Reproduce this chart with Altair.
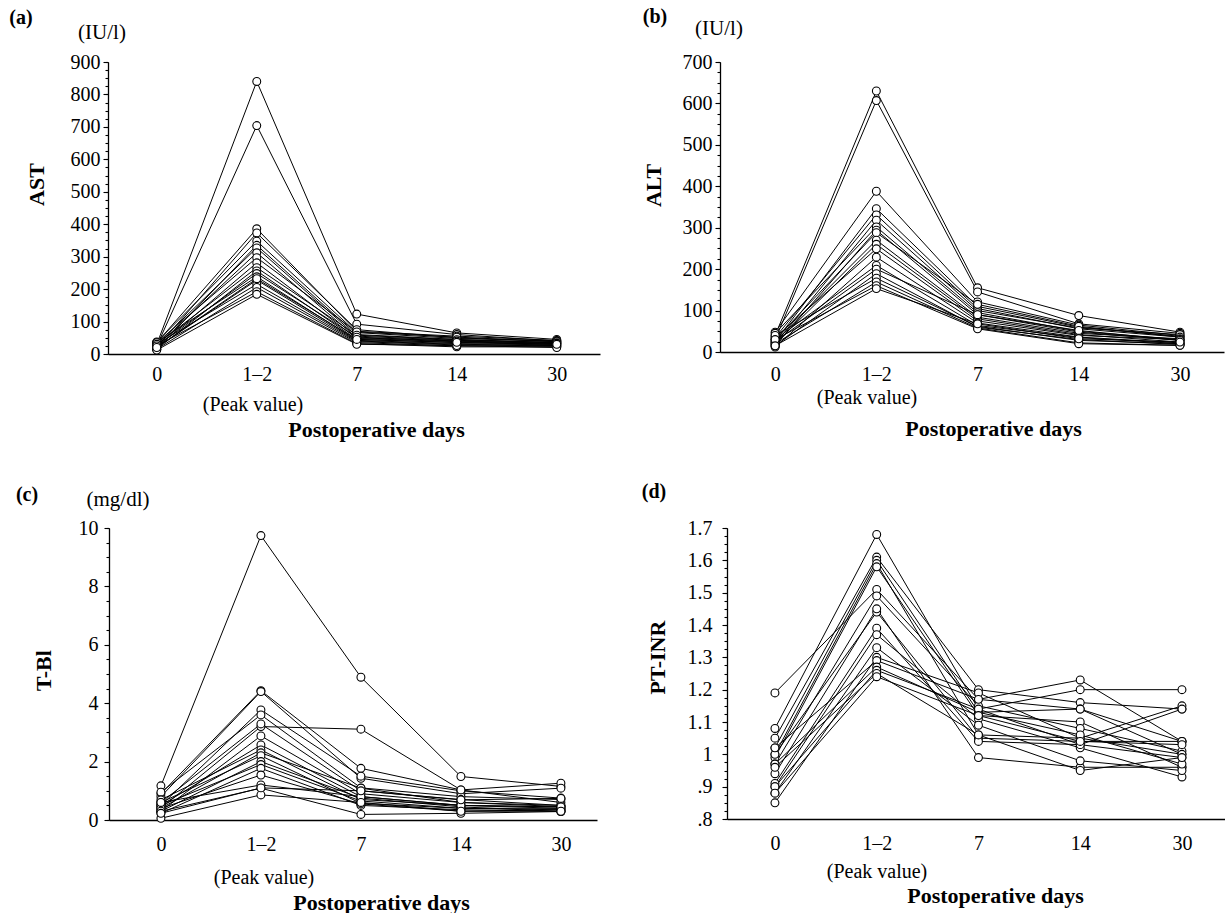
import altair as alt
import pandas as pd

W, H = 1225, 913
SERIF = "Liberation Serif"

DAYS = ["0", "1–2", "7", "14", "30"]

# One row per patient: day 0, peak (day 1–2), day 7, day 14, day 30
AST = [
    [30, 840, 123, 65, 45],
    [25, 704, 92, 60, 40],
    [35, 386, 70, 55, 42],
    [20, 373, 75, 50, 38],
    [37, 348, 66, 48, 40],
    [15, 335, 60, 45, 35],
    [30, 327, 55, 42, 36],
    [25, 312, 50, 40, 32],
    [35, 297, 68, 52, 38],
    [20, 281, 48, 38, 30],
    [30, 266, 58, 44, 34],
    [15, 256, 45, 35, 30],
    [25, 248, 52, 40, 33],
    [35, 238, 42, 32, 28],
    [20, 228, 40, 30, 26],
    [30, 215, 38, 28, 25],
    [15, 205, 35, 25, 24],
    [25, 192, 32, 22, 22],
    [12, 184, 30, 26, 20],
    [20, 232, 45, 36, 30],
]

ALT = [
    [40, 630, 155, 88, 48],
    [30, 607, 145, 68, 45],
    [48, 388, 121, 65, 40],
    [25, 346, 110, 60, 38],
    [35, 331, 105, 56, 36],
    [20, 318, 100, 58, 42],
    [45, 302, 95, 50, 30],
    [15, 294, 90, 48, 28],
    [30, 288, 115, 62, 36],
    [25, 270, 84, 45, 32],
    [20, 260, 80, 42, 24],
    [35, 249, 75, 40, 30],
    [12, 229, 70, 36, 22],
    [30, 209, 64, 35, 20],
    [25, 200, 90, 52, 28],
    [15, 189, 60, 30, 18],
    [40, 178, 62, 28, 20],
    [20, 169, 58, 22, 16],
    [30, 160, 56, 20, 16],
    [15, 153, 68, 32, 24],
]

TBIL = [
    [1.17, 9.74, 4.89, 1.49, 1.15],
    [0.9, 4.43, 1.77, 1.03, 1.26],
    [0.8, 4.4, 1.43, 0.9, 1.09],
    [0.5, 3.77, 1.5, 1.0, 0.75],
    [0.95, 3.6, 1.1, 0.8, 0.7],
    [0.4, 3.2, 3.11, 1.03, 0.6],
    [0.6, 3.29, 1.0, 0.7, 0.5],
    [0.3, 2.88, 0.9, 0.6, 0.46],
    [0.5, 2.57, 0.8, 0.5, 0.4],
    [0.69, 2.4, 0.7, 0.5, 0.45],
    [0.4, 2.3, 1.09, 0.6, 0.5],
    [0.6, 2.2, 0.57, 0.4, 0.35],
    [0.3, 2.0, 0.75, 0.45, 0.29],
    [0.5, 1.9, 0.65, 0.4, 0.4],
    [0.23, 1.77, 0.5, 0.35, 0.3],
    [0.4, 1.54, 0.55, 0.3, 0.35],
    [0.6, 1.2, 0.8, 0.5, 0.45],
    [0.3, 1.09, 0.19, 0.23, 0.29],
    [0.06, 0.86, 0.6, 0.3, 0.3],
    [0.23, 1.1, 1.0, 0.69, 0.74],
]

PTINR = [
    [1.19, 1.51, 1.17, 1.23, 1.04],
    [1.08, 1.68, 1.14, 1.20, 1.20],
    [1.05, 1.61, 1.20, 1.16, 1.14],
    [1.02, 1.60, 1.13, 1.14, 1.00],
    [1.00, 1.59, 1.06, 1.05, 1.15],
    [0.99, 1.58, 1.12, 1.10, 0.96],
    [0.97, 1.49, 1.15, 1.08, 1.01],
    [1.00, 1.44, 1.05, 1.04, 1.04],
    [0.94, 1.45, 0.99, 0.96, 0.96],
    [0.91, 1.39, 1.04, 1.03, 0.99],
    [0.90, 1.37, 1.11, 1.02, 0.93],
    [0.88, 1.33, 1.09, 0.98, 0.95],
    [0.85, 1.30, 1.19, 1.05, 1.00],
    [1.02, 1.29, 1.17, 1.14, 1.04],
    [0.97, 1.27, 1.13, 1.06, 0.97],
    [0.90, 1.26, 1.14, 1.03, 1.14],
    [0.96, 1.25, 1.06, 0.95, 0.99],
    [0.88, 1.24, 1.12, 1.04, 1.03],
]


def long_table(rows):
    recs = []
    for pid, vals in enumerate(rows):
        for i, (day, v) in enumerate(zip(DAYS, vals)):
            recs.append({"patient": pid, "day": day, "idx": i, "value": v})
    return pd.DataFrame(recs)


def steps(lo, hi, step):
    n = int(round((hi - lo) / step))
    return [round(lo + k * step, 4) for k in range(n + 1)]


def panel(rows, *, y_domain, y_range, y_major, y_minor, x_range, x_pad, x_align,
          axis_x, axis_y, tick_gap, x_label_pad, y_title, y_title_pos,
          x_title_pos, label_expr=None):
    """Lines (carrying the x axis and major y ticks) and circles (minor y ticks)."""
    df = long_table(rows)
    x_scale = alt.Scale(type="point", domain=DAYS, range=list(x_range),
                        padding=x_pad, align=x_align)
    y_scale = alt.Scale(domain=list(y_domain), range=list(y_range),
                        zero=False, nice=False)

    x_axis = alt.Axis(orient="bottom", offset=axis_y - H, ticks=False,
                      labelPadding=x_label_pad, labelAngle=0,
                      title="Postoperative days",
                      titleX=x_title_pos[0], titleY=x_title_pos[1] - axis_y,
                      titleAlign="center", titleBaseline="middle")
    major_kw = dict(orient="left", offset=-axis_x, values=y_major, tickSize=5,
                    labelPadding=tick_gap - 5, title=y_title,
                    titleX=y_title_pos[0] - axis_x, titleY=y_title_pos[1],
                    titleAngle=270, titleAlign="center", titleBaseline="middle")
    if label_expr:
        major_kw["labelExpr"] = label_expr
    y_axis = alt.Axis(**major_kw)
    minor_axis = alt.Axis(orient="left", offset=-axis_x, values=y_minor,
                          tickSize=3, labels=False, domain=False, title="")

    base = alt.Chart(df)
    lines = base.mark_line(color="black", strokeWidth=1).encode(
        x=alt.X("day:O", scale=x_scale, axis=x_axis),
        y=alt.Y("value:Q", scale=y_scale, axis=y_axis),
        detail="patient:N",
        order="idx:Q",
    )
    points = base.mark_circle(fill="white", stroke="black", strokeWidth=1.1,
                              size=62, opacity=1).encode(
        x=alt.X("day:O", scale=x_scale, axis=None),
        y=alt.Y("value:Q", scale=y_scale, axis=minor_axis),
    )
    return [lines, points]


ANCHOR = pd.DataFrame({"n": [0]})


def note(text, x, y, size=20, weight="normal"):
    return alt.Chart(ANCHOR).mark_text(
        text=text, font=SERIF, fontSize=size, fontWeight=weight,
        align="center", baseline="middle", color="black",
    ).encode(x=alt.value(x), y=alt.value(y))


pa = panel(AST, y_domain=(0, 900), y_range=(354, 62),
           y_major=steps(0, 900, 100), y_minor=steps(0, 900, 25),
           x_range=(108, 600), x_pad=0.46, x_align=0.53,
           axis_x=108, axis_y=354, tick_gap=8, x_label_pad=10,
           y_title="AST", y_title_pos=(36, 184), x_title_pos=(376, 429))

pb = panel(ALT, y_domain=(0, 700), y_range=(352, 62),
           y_major=steps(0, 700, 100), y_minor=steps(0, 700, 25),
           x_range=(720, 1224), x_pad=0.49, x_align=0.556,
           axis_x=720, axis_y=352, tick_gap=8, x_label_pad=12,
           y_title="ALT", y_title_pos=(653, 185), x_title_pos=(993, 428))

pc = panel(TBIL, y_domain=(0, 10), y_range=(820, 528),
           y_major=steps(0, 10, 2), y_minor=steps(0, 10, 0.5),
           x_range=(109, 597), x_pad=0.44, x_align=0.59,
           axis_x=109, axis_y=820, tick_gap=11, x_label_pad=14,
           y_title="T-Bl", y_title_pos=(43, 670), x_title_pos=(381, 902))

pd_ = panel(PTINR, y_domain=(0.8, 1.7), y_range=(819, 528),
            y_major=steps(0.8, 1.7, 0.1), y_minor=steps(0.8, 1.7, 0.025),
            x_range=(727, 1225), x_pad=0.447, x_align=0.527,
            axis_x=727, axis_y=819, tick_gap=15, x_label_pad=14,
            y_title="PT-INR", y_title_pos=(657, 657), x_title_pos=(995, 895),
            label_expr="datum.value < 0.95 ? '.' + round(datum.value * 10) : format(datum.value, '~g')")

notes = [
    note("(a)", 21, 18, 20, "bold"),
    note("(IU/l)", 102, 33, 21),
    note("(Peak value)", 253, 405, 20),
    note("(b)", 655, 17, 20, "bold"),
    note("(IU/l)", 719, 29, 21),
    note("(Peak value)", 867, 398, 20),
    note("(c)", 27, 495, 20, "bold"),
    note("(mg/dl)", 118, 500, 21),
    note("(Peak value)", 264, 878, 20),
    note("(d)", 654, 492, 20, "bold"),
    note("(Peak value)", 877, 872, 20),
]

chart = (
    alt.layer(*pa, *pb, *pc, *pd_, *notes)
    .resolve_scale(x="independent", y="independent")
    .resolve_axis(x="independent", y="independent")
    .properties(width=W, height=H, autosize=alt.AutoSizeParams(type="none"),
                padding=0)
    .configure_view(strokeWidth=0)
    .configure_axis(
        grid=False,
        labelFont=SERIF, labelFontSize=20, labelColor="black",
        titleFont=SERIF, titleFontSize=22, titleFontWeight="bold",
        titleColor="black", domainColor="black", domainWidth=1.3,
        tickColor="black", tickWidth=1.1,
    )
)

chart.save("out.html", embed_options={"renderer": "svg", "actions": False})
